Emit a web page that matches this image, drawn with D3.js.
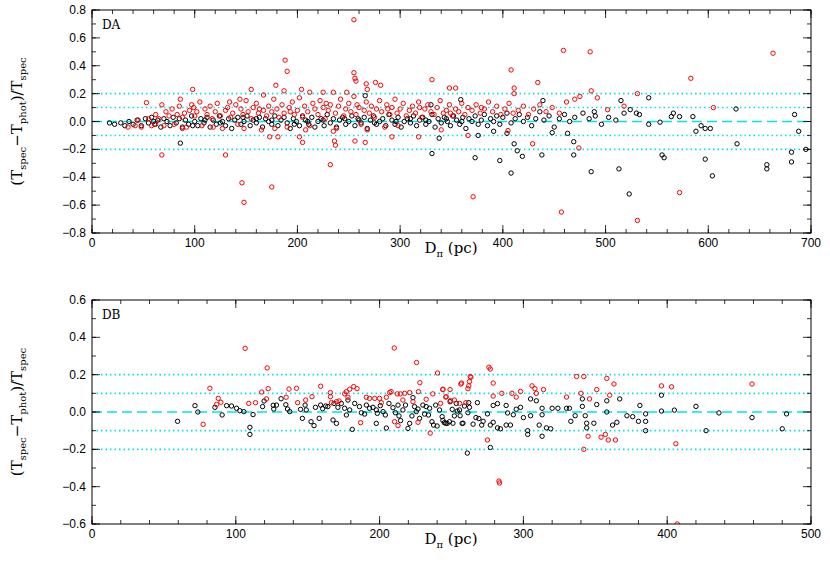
<!DOCTYPE html>
<html><head><meta charset="utf-8">
<script src="https://cdn.jsdelivr.net/npm/d3@7"></script>
<style>body{margin:0;background:#fff}</style>
</head><body>
<svg id="chart" width="830" height="574"></svg>
<script>
// DA panel: [distance pc, (Tspec-Tphot)/Tspec]
const daBlack = [
[22,-0.02],[28,-0.01],[32,-0.03],[36,0.0],[40,-0.02],[44,0.01],[48,-0.03],[52,0.02],[55,-0.01],[58,0.03],[61,-0.02],[64,0.01],[67,-0.04],[70,0.02],[73,0.0],[76,-0.03],[79,0.03],[82,-0.01],[85,0.02],[88,-0.04],[91,0.01],[94,-0.02],[97,0.04],[100,0.0],[103,-0.03],[106,0.02],[109,-0.01],[112,0.03],[115,-0.04],[118,0.01],[121,-0.02],[124,0.04],[127,0.0],[130,-0.03],[133,0.02],[136,-0.05],[139,0.01],[142,0.03],[145,-0.02],[148,0.0],[151,0.04],[154,-0.03],[157,0.01],[160,-0.01],[163,0.03],[166,-0.04],[169,0.02],[172,0.0],[175,-0.02],[178,0.04],[181,-0.03],[184,0.01],[187,0.03],[190,-0.01],[193,-0.05],[196,0.02],[199,0.0],[202,-0.03],[205,0.04],[208,0.01],[211,-0.02],[214,0.03],[217,-0.04],[220,0.0],[223,0.02],[226,-0.03],[229,0.05],[232,-0.01],[235,0.02],[238,-0.04],[241,0.01],[244,0.03],[247,-0.02],[250,0.0],[253,0.04],[256,-0.03],[259,0.02],[262,-0.01],[265,0.03],[268,-0.05],[271,0.01],[274,0.04],[277,-0.02],[280,0.0],[283,0.02],[286,-0.03],[289,0.05],[292,0.01],[295,-0.02],[298,0.03],[301,-0.04],[304,0.0],[307,0.02],[310,-0.01],[313,0.04],[316,-0.03],[319,0.01],[322,0.03],[325,-0.02],[328,0.0],[331,0.05],[334,-0.04],[337,0.02],[340,-0.01],[343,0.03],[346,0.0],[349,-0.03],[352,0.04],[355,0.01],[358,-0.02],[361,0.03],[364,-0.05],[367,0.02],[370,0.0],[373,0.04],[376,-0.02],[379,0.01],[382,0.05],[385,-0.03],[388,0.02],[391,0.0],[394,0.04],[397,-0.02],[400,0.03],[404,0.06],[408,-0.01],[412,0.02],[416,0.05],[420,0.0],[424,0.03],[428,-0.03],[432,0.02],[436,0.07],[440,0.01],[445,0.04],[450,-0.04],[455,0.02],[460,0.05],[465,0.0],[470,0.03],[478,0.06],[484,0.02],[490,0.04],[496,-0.02],[503,0.03],[510,0.01],[518,0.06],
[60,0.0],[110,0.01],[160,0.02],[210,0.0],[260,0.01],[310,0.02],[360,0.0],[125,-0.01],[175,0.01],[225,0.01],[275,-0.01],[325,0.01],[98,-0.03],[147,0.03],[197,-0.02],[246,0.02],[296,0.0],[345,0.02],
[17,-0.01],[86,-0.155],[331,-0.23],[338,-0.12],[330,0.12],[266,0.185],
[359,0.157],[373,-0.26],[376,-0.10],[391,-0.07],[397,-0.28],[404,-0.085],[408,-0.37],[411,-0.16],[414,-0.21],[419,-0.25],[439,0.15],[438,-0.24],[448,-0.08],[463,-0.085],[469,-0.24],[469,-0.145],[486,-0.36],[489,0.07],[513,-0.34],[515,0.15],[523,-0.52],[524,0.085],[530,0.06],[533,0.05],[542,0.17],[542,-0.02],[553,-0.005],[555,-0.24],[557,-0.26],[564,0.035],[566,0.06],[572,0.035],[585,0.035],[588,-0.07],[593,-0.03],[597,-0.05],[597,-0.27],[602,-0.05],[604,-0.39],[627,0.09],[628,-0.16],[657,-0.31],[657,-0.34],[681,-0.22],[681,-0.29],[684,0.05],[688,-0.07],[695,-0.2]
];
const daRed = [
[35,-0.04],[42,-0.03],[48,-0.04],[55,0.02],[58,-0.03],[62,0.05],[65,0.02],[70,-0.03],[72,0.07],[75,0.04],[78,0.09],[80,-0.02],[83,0.05],[85,0.11],[88,0.03],[90,0.06],[92,-0.04],[95,0.08],[97,0.12],[100,0.04],[102,0.07],[105,0.14],[107,-0.03],[110,0.09],[112,0.05],[115,0.11],[117,0.02],[120,0.07],[122,0.13],[125,0.04],[127,-0.05],[130,0.08],[132,0.10],[135,0.03],[137,0.06],[140,0.12],[142,-0.02],[145,0.09],[147,0.05],[150,0.15],[152,0.07],[155,0.02],[157,0.10],[160,0.13],[162,0.06],[165,-0.06],[167,0.08],[170,0.04],[172,0.11],[175,0.07],[177,0.16],[180,0.09],[182,0.03],[185,0.12],[187,0.06],[190,-0.04],[192,0.10],[195,0.14],[197,0.05],[200,0.08],[202,0.17],[205,0.03],[207,0.11],[210,0.07],[212,-0.03],[215,0.13],[217,0.09],[220,0.05],[222,0.15],[225,0.10],[227,0.02],[230,0.08],[232,0.12],[235,-0.07],[237,0.06],[240,0.11],[242,0.16],[245,0.04],[247,0.09],[250,0.13],[252,0.07],[255,0.18],[257,0.05],[260,0.10],[262,-0.02],[265,0.08],[267,0.14],[270,0.06],[272,0.11],[275,0.03],[277,0.09],[280,0.15],[282,0.07],[285,-0.04],[287,0.12],[290,0.05],[292,0.10],[295,0.16],[297,0.06],[300,0.09],[303,0.13],[306,0.04],[309,0.08],[312,0.11],[315,0.06],[318,0.14],[321,0.03],[324,0.09],[327,0.12],[330,0.07],[333,0.05],[336,0.10],[339,0.15],[342,0.06],[345,0.08],[348,0.12],[351,0.04],[354,0.09],[357,0.07],[360,0.13],[363,0.05],[366,0.10],[370,0.08],[374,0.12],[378,0.06],[382,0.09],[386,0.14],[390,0.07],[394,0.11],[398,0.05],[402,0.09],[406,0.13],[410,0.06],[415,0.08],[420,0.11],[425,0.05],[430,0.09],[436,0.12],[442,0.07],[448,0.10],[455,0.06],
[62,-0.02],[88,-0.05],[118,-0.04],[148,-0.05],[178,-0.05],[208,-0.06],[238,-0.05],[268,-0.06],[298,-0.03],[45,0.01],[68,0.12],[99,0.10],[134,0.14],[163,0.09],[193,0.07],[228,0.13],[258,0.12],[288,0.09],[319,0.10],[349,0.06],[379,0.10],
[255,0.73],[188,0.44],[190,0.36],[255,0.35],[256,0.31],[257,0.29],[267,0.27],[276,0.28],[281,0.26],[68,-0.24],[130,-0.24],[146,-0.44],[148,-0.58],[175,-0.47],[232,-0.31],[331,0.3],[348,0.24],[354,0.24],[98,0.23],[155,0.23],[179,0.26],[187,0.22],[204,0.23],[212,0.21],[225,0.21],[235,0.21],[248,0.21],[268,0.23],[53,0.135],[86,0.16],[144,0.16],[167,0.19],[236,-0.14],[237,-0.17],[266,-0.15],[205,-0.15],[202,-0.11],[256,-0.14],[292,-0.11],[318,-0.11],[340,-0.06],[173,-0.11],[181,-0.11],
[371,-0.54],[366,-0.10],[408,0.37],[411,0.24],[411,0.2],[434,0.28],[459,0.51],[457,-0.65],[485,0.5],[486,0.22],[531,0.2],[531,-0.71],[572,-0.51],[583,0.31],[605,0.1],[663,0.49],[474,-0.19],[429,-0.16],[492,0.17],[502,0.085],[518,0.11],[475,0.18],[470,0.16],[462,0.14],[405,-0.065]
];
// DB panel
const dbBlack = [
[59.5,-0.05],[71.6,0.034],[73.6,0.0],[85.5,0.025],[90.5,-0.016],[93.6,0.034],[97,0.032],[100.5,0.02],[102.8,0.007],[105.6,0.002],[109.8,-0.082],[109.8,-0.12],[112,-0.014],[118.6,0.029],[119.7,0.059],[126,0.036],[126.4,0.016],[128.3,0.037],[131.5,0.071],[134.8,0.039],[136,0.016],[137.5,0.002],[145,0.014],[146.3,-0.034],[148.2,0.037],[149,0.011],[152.3,-0.052],[154.4,-0.073],[155.4,0.025],[158,-0.034],[159,0.037],[160.4,0.018],[162.5,0.032],[164,0.029],[167.6,-0.043],[168.3,0.046],[170,-0.061],[171,0.025],[173.4,0.046],[175.7,0.02],[176.9,-0.016],[178,0.064],[179.2,0.011],[181,-0.093],[182.7,0.046],[186,0.029],[187.3,-0.004],[189.6,-0.011],[190.8,0.037],[193,0.02],[195.4,0.025],[197.7,0.011],[198.4,-0.007],[197.7,-0.061],[200.5,0.034],[202.4,0.002],[204,-0.016],[204.7,-0.086],[206.5,0.046],[209.3,0.023],[211,-0.004],[212.8,0.037],[213.5,-0.021],[214.6,-0.046],[216.2,0.011],[218,0.037],[219.7,-0.088],[220.9,-0.061],[222.5,-0.021],[223.2,0.077],[224.3,0.029],[225.5,0.002],[226.7,0.016],[227.8,-0.034],[230.1,0.037],[231.3,-0.011],[232.4,0.029],[234,-0.016],[234.8,0.02],[236.4,-0.052],[237.5,-0.07],[239,0.037],[240,-0.075],[241.7,0.011],[243.5,-0.025],[245,-0.057],[247,-0.061],[248.6,-0.052],[250.5,0.014],[252,-0.021],[253.3,0.046],[255.6,0.011],[257.4,-0.061],[259,0.032],[261.4,-0.004],[262.5,0.025],
[261,-0.22],[277,-0.19],[396,0.09],[396,0.005],[405,0.01],[420,0.03],[427,-0.1],[436,-0.005],[459,-0.03],[480,-0.09],[483,-0.01],[381,0.035],[385,-0.01],[385,-0.05],[385,-0.1],[380,-0.05],[372,-0.02],[376,-0.025],[367,0.07],[365,-0.055],[362,-0.07],[358,0.06],[358,0.0],[351,0.04],[349,-0.06],[344,-0.06],[344,-0.085],[343,-0.02],[341,0.07],[341,0.03],[336,-0.02],[333,-0.05],[332,0.02],[330,0.02],[324,0.02],[320,0.02],[319,-0.09],[316,-0.085],[313,-0.13],[311,-0.07],[313,0.02],[309,0.06],[305,0.07],[305,-0.02],[303,-0.1],[303,-0.12],[300,-0.03],[298,0.025],[293,-0.015],[291,-0.07],[288,-0.07],[284,-0.09],[282,-0.085],[279,-0.055],[277,-0.07],[275,-0.01],[272,-0.05],[271,-0.07],[269,-0.035],[267,-0.03],[265,-0.065],[268,0.05],[262,0.05],[258,-0.06],[256,-0.02],[251,-0.06],[246,-0.06],[244,-0.045],[249,0.055],[279,0.035],[282,0.045],[288,0.035],[289,-0.005],[295,0.015],[313,-0.015],[254,0.005]
];
const dbRed = [
[82,0.127],[77.3,-0.066],[86.6,0.04],[87.8,0.073],[89.6,0.052],[106.5,0.341],[109,0.046],[113.7,0.05],[118,0.107],[121.3,0.07],[121.8,0.236],[122.5,0.125],[137,0.123],[135,0.079],[142.2,0.127],[143,0.05],[148.6,0.064],[153,0.082],[159,0.138],[165.8,0.082],[165.8,0.104],[166.5,0.05],[170,0.055],[171.8,0.059],[175.7,0.097],[176.9,0.109],[178,0.079],[179.2,0.122],[182,0.136],[184.3,0.125],[186.8,-0.057],[190.8,0.079],[193,0.073],[196.6,0.073],[200,0.073],[201.2,0.05],[204.7,0.079],[207,0.104],[208,0.109],[210.2,0.343],[210.4,-0.052],[212.3,0.097],[212.8,-0.073],[214.4,0.097],[216.2,0.064],[217.4,0.1],[220.9,0.104],[223.2,0.055],[225.7,0.265],[227,0.109],[228,0.157],[226.7,-0.055],[232.4,0.068],[235.2,-0.113],[237,0.097],[240.3,0.209],[242.4,0.046],[244,0.122],[246.3,0.082],[249.3,0.061],[252,0.064],[256.5,0.15],[255.6,0.046],[260,0.05],[261.4,0.125],[262.5,0.163],[263.5,0.186],
[276,0.24],[277,0.23],[283,-0.37],[283.4,-0.38],[275,-0.15],[257,0.155],[262,0.14],[263,0.19],[279,0.155],[337,0.19],[342,0.19],[358,0.18],[363,0.15],[340,0.1],[346,0.07],[351,0.12],[360,0.09],[330,0.08],[306,0.14],[308,0.125],[314,0.12],[298,0.11],[345,-0.13],[342,-0.2],[354,-0.135],[357,-0.12],[359,-0.15],[364,-0.15],[396,0.14],[403,0.135],[406,-0.17],[407,-0.6],[459,0.15],[249,0.12],[244,0.12],[246,0.08],[279,0.085],[285,0.1],[292,0.1],[309,0.1],[295,0.08]
];
const refLevels = [-0.2, -0.1, 0.1, 0.2];

const svg = d3.select('#chart');
const L = 92, R = 811;
const cyan = '#00e5ee';
const labelFont = 'DejaVu Serif, serif';

function panel(cfg){
  const {top, bottom, xMax, yMin, yMax, yStep, label, black, red} = cfg;
  const x = d3.scaleLinear().domain([0, xMax]).range([L, R]);
  const y = d3.scaleLinear().domain([yMin, yMax]).range([bottom, top]);
  const g = svg.append('g');
  const clipId = 'clip' + label;
  g.append('clipPath').attr('id', clipId).append('rect')
    .attr('x', L).attr('y', top).attr('width', R - L).attr('height', bottom - top);
  const plot = g.append('g').attr('clip-path', `url(#${clipId})`);

  refLevels.forEach(v => {
    plot.append('line').attr('x1', L).attr('x2', R).attr('y1', y(v)).attr('y2', y(v))
      .attr('stroke', cyan).attr('stroke-width', 1.6).attr('stroke-dasharray', '1.5,3');
  });
  plot.append('line').attr('x1', L).attr('x2', R).attr('y1', y(0)).attr('y2', y(0))
    .attr('stroke', cyan).attr('stroke-width', 1.4).attr('stroke-dasharray', '10,5');

  plot.selectAll('circle.b').data(black).enter().append('circle')
    .attr('cx', d => x(d[0])).attr('cy', d => y(d[1])).attr('r', 2.2)
    .attr('fill', 'none').attr('stroke', '#000').attr('stroke-width', 1);
  plot.selectAll('circle.r').data(red).enter().append('circle')
    .attr('cx', d => x(d[0])).attr('cy', d => y(d[1])).attr('r', 2.2)
    .attr('fill', 'none').attr('stroke', '#f00').attr('stroke-width', 1);

  // frame + ticks on all sides
  g.append('rect').attr('x', L).attr('y', top).attr('width', R - L).attr('height', bottom - top)
    .attr('fill', 'none').attr('stroke', '#000').attr('stroke-width', 1);
  const xMinor = d3.range(0, xMax + 0.1, 20), xMajor = d3.range(0, xMax + 0.1, 100);
  const yMinor = d3.range(yMin, yMax + 1e-9, yStep / 2), yMajor = d3.range(yMin, yMax + 1e-9, yStep);
  const tk = (x1, y1, x2, y2) => g.append('line').attr('x1', x1).attr('y1', y1).attr('x2', x2).attr('y2', y2)
    .attr('stroke', '#000').attr('stroke-width', 0.8);
  xMinor.forEach(v => { tk(x(v), bottom, x(v), bottom - 4); tk(x(v), top, x(v), top + 4); });
  xMajor.forEach(v => { tk(x(v), bottom, x(v), bottom - 8); tk(x(v), top, x(v), top + 8); });
  yMinor.forEach(v => { tk(L, y(v), L + 4, y(v)); tk(R, y(v), R - 4, y(v)); });
  yMajor.forEach(v => { tk(L, y(v), L + 8, y(v)); tk(R, y(v), R - 8, y(v)); });

  g.selectAll('text.xt').data(xMajor).enter().append('text')
    .attr('x', d => x(d)).attr('y', bottom + 14).attr('text-anchor', 'middle')
    .attr('font-family', 'Liberation Sans, Arial').attr('font-size', 12).text(d => d);
  g.selectAll('text.yt').data(yMajor).enter().append('text')
    .attr('x', L - 6).attr('y', d => y(d) + 4).attr('text-anchor', 'end')
    .attr('font-family', 'Liberation Sans, Arial').attr('font-size', 12)
    .text(d => d3.format('.1f')(Math.abs(d) < 1e-9 ? 0 : d).replace('-', '\u2212'));

  g.append('text').attr('x', L + 10).attr('y', top + 19)
    .attr('font-family', labelFont).attr('font-size', 12).text(label);

  const xl = g.append('text').attr('x', 451).attr('y', bottom + 20).attr('text-anchor', 'middle')
    .attr('font-family', labelFont).attr('font-size', 15);
  xl.append('tspan').text('D');
  xl.append('tspan').attr('font-size', 10).attr('dy', 4).text('π');
  xl.append('tspan').attr('dy', -4).text(' (pc)');

  const yc = (top + bottom) / 2;
  const yl = g.append('text').attr('transform', `translate(22,${yc}) rotate(-90)`).attr('text-anchor', 'middle')
    .attr('font-family', labelFont).attr('font-size', 15);
  yl.append('tspan').text('(T');
  yl.append('tspan').attr('font-size', 10).attr('dy', 4).text('spec');
  yl.append('tspan').attr('dy', -4).text('\u2212T');
  yl.append('tspan').attr('font-size', 10).attr('dy', 4).text('phot');
  yl.append('tspan').attr('dy', -4).text(')/T');
  yl.append('tspan').attr('font-size', 10).attr('dy', 4).text('spec');
}

panel({top: 10, bottom: 233, xMax: 700, yMin: -0.8, yMax: 0.8, yStep: 0.2, label: 'DA', black: daBlack, red: daRed});
panel({top: 300, bottom: 524, xMax: 500, yMin: -0.6, yMax: 0.6, yStep: 0.2, label: 'DB', black: dbBlack, red: dbRed});
</script>
</body></html>
